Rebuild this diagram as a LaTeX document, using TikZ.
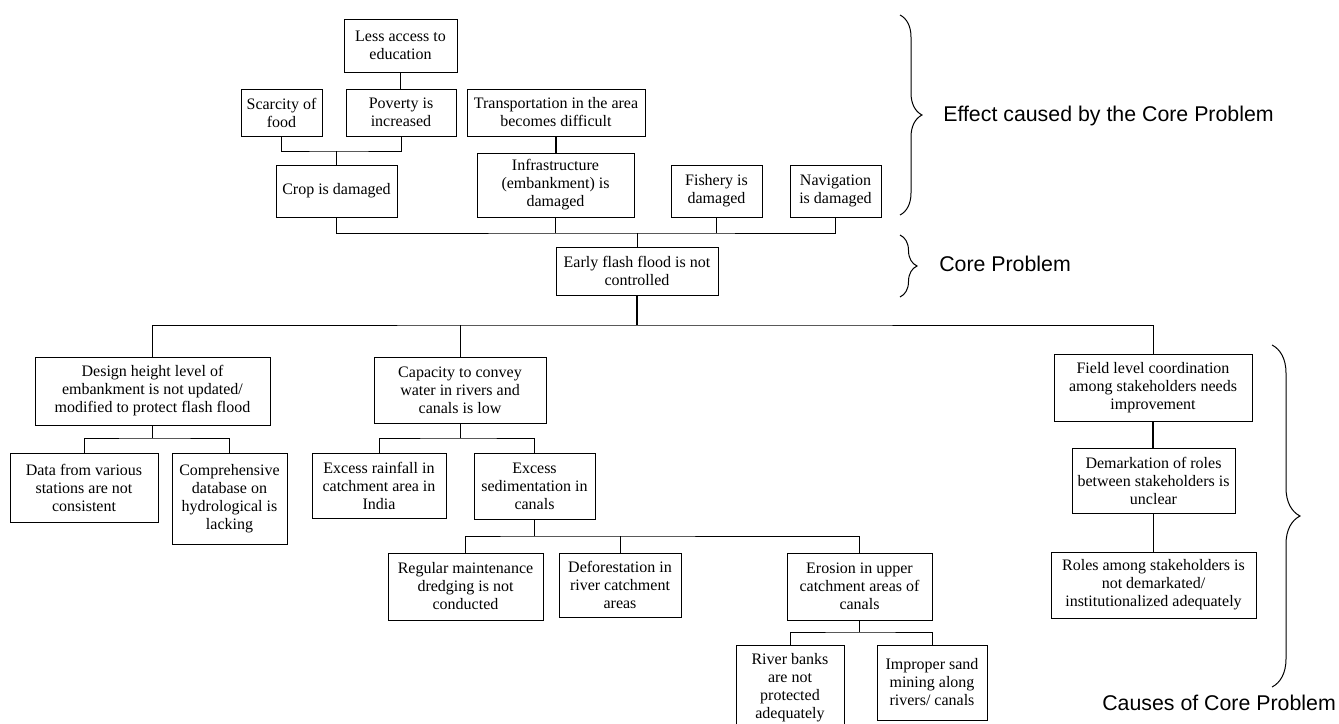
\documentclass[tikz,border=0pt]{standalone}
\usepackage{fontspec}
\setmainfont{Liberation Serif}
\newfontfamily\labelfont{Liberation Sans}
\usetikzlibrary{decorations.pathreplacing}

\begin{document}
\begin{tikzpicture}[x=0.75pt,y=-0.75pt,
  box/.style 2 args={draw, line width=0.7pt, inner sep=0pt, align=center,
    minimum width=#1*0.75pt, minimum height=#2*0.75pt,
    font=\fontsize{12}{13.5}\selectfont},
  link/.style={line width=0.75pt},
  stem/.style={line width=1.3pt},
  bracket/.style={decorate, decoration={brace, amplitude=#1*0.75pt}, line width=0.75pt},
  sidelabel/.style={anchor=west, inner sep=0pt, font=\labelfont\fontsize{16}{18}\selectfont}]

\useasboundingbox (0,0) rectangle (1339,724);
\clip (0,0) rectangle (1339,724);

% ---- effects ----
\node[box={113}{53}] (edu)   at (400.5,45.5) {Less access to\\education};
\node[box={81}{47}]  (food)  at (281.5,112.5) {Scarcity of\\food};
\node[box={110}{47}] (pov)   at (401,112.5) {Poverty is\\increased};
\node[box={178}{47}] (trans) at (556,112.5) {Transportation in the area\\becomes difficult};
\node[box={121}{52}] (crop)  at (336.5,191) {Crop is damaged};
\node[box={157}{64}] (infra) at (555.5,185) {Infrastructure\\(embankment) is\\damaged};
\node[box={91}{52}]  (fish)  at (716.5,191) {Fishery is\\damaged};
\node[box={91}{52}]  (nav)   at (835.5,191) {Navigation\\is damaged};

% ---- core problem ----
\node[box={162}{48}] (core)  at (637,271) {Early flash flood is not\\controlled};

% ---- causes ----
\node[box={235}{68}] (design) at (152.5,391) {Design height level of\\embankment is not updated/\\modified to protect flash flood};
\node[box={172}{66}] (cap)    at (460,390) {Capacity to convey\\water in rivers and\\canals is low};
\node[box={198}{67}] (field)  at (1153,387.5) {Field level coordination\\among stakeholders needs\\improvement};
\node[box={148}{69}] (data)   at (84,487.5) {Data from various\\stations are not\\consistent};
\node[box={115}{91}] (comp)   at (229.5,498.5) {Comprehensive\\database on\\hydrological is\\lacking};
\node[box={134}{65}] (rain)   at (379,485.5) {Excess rainfall in\\catchment area in\\India};
\node[box={121}{66}] (sed)    at (534.5,486) {Excess\\sedimentation in\\canals};
\node[box={163}{65}] (dem)    at (1153.5,480.5) {Demarkation of roles\\between stakeholders is\\unclear};
\node[box={155}{67}] (reg)    at (465.5,586.5) {Regular maintenance\\dredging is not\\conducted};
\node[box={122}{64}] (defo)   at (620,585) {Deforestation in\\river catchment\\areas};
\node[box={145}{67}] (eros)   at (859.5,586.5) {Erosion in upper\\catchment areas of\\canals};
\node[box={205}{66}] (roles)  at (1153.5,585) {Roles among stakeholders is\\not demarkated/\\institutionalized adequately};
\node[box={108}{86}] (bank)   at (790,688) {River banks\\are not\\protected\\adequately};
\node[box={110}{75}] (sand)   at (932,682.5) {Improper sand\\mining along\\rivers/ canals};

% ---- junctions ----
\coordinate (j1) at (336.5,151);
\coordinate (j2) at (637,233);
\coordinate (j3) at (637,325);
\coordinate (j4) at (152.5,438);
\coordinate (j5) at (460,438);
\coordinate (j6) at (534.5,536);
\coordinate (j7) at (859.5,632);

% ---- connectors (effects) ----
\draw[stem] (edu.south) -- (edu.south |- pov.north);
\draw[link] (food.south) |- (j1) -| (pov.south);
\draw[link] (j1) -- (crop.north);
\draw[stem] (trans.south) -- (trans.south |- infra.north);
\draw[link] (crop.south) |- (j2) -| (nav.south);
\draw[link] (infra.south) -- (infra.south |- j2);
\draw[link] (fish.south) -- (fish.south |- j2);
\draw[link] (j2) -- (core.north);

% ---- connectors (causes) ----
\draw[stem] (core.south) -- (j3);
\draw[link] (design.north) |- (j3) -| (field.north);
\draw[link] (cap.north) -- (cap.north |- j3);
\draw[stem] (design.south) -- (j4);
\draw[link] (data.north) |- (j4) -| (comp.north);
\draw[link] (cap.south) -- (j5);
\draw[link] (rain.north) |- (j5) -| (sed.north);
\draw[stem] (sed.south) -- (j6);
\draw[link] (reg.north) |- (j6) -| (eros.north);
\draw[link] (defo.north) -- (defo.north |- j6);
\draw[link] (eros.south) -- (j7);
\draw[link] (bank.north) |- (j7) -| (sand.north);
\draw[stem] (field.south) -- (field.south |- dem.north);
\draw[stem] (dem.south) -- (dem.south |- roles.north);

% ---- braces and their labels ----
\coordinate (b1a) at (900,15);   \coordinate (b1b) at (900,215);
\coordinate (b2a) at (900,235);  \coordinate (b2b) at (900,297);
\coordinate (b3a) at (1272,345); \coordinate (b3b) at (1272,687);
\draw[bracket=22] (b1a) -- (b1b);
\draw[bracket=17] (b2a) -- (b2b);
\draw[bracket=28] (b3a) -- (b3b);
\node[sidelabel] (effect)  at (943,116) {Effect caused by the Core Problem};
\node[sidelabel] (corelab) at (939,264) {Core Problem};
\node[sidelabel] (causes)  at (1102,703) {Causes of Core Problem};
\end{tikzpicture}
\end{document}
